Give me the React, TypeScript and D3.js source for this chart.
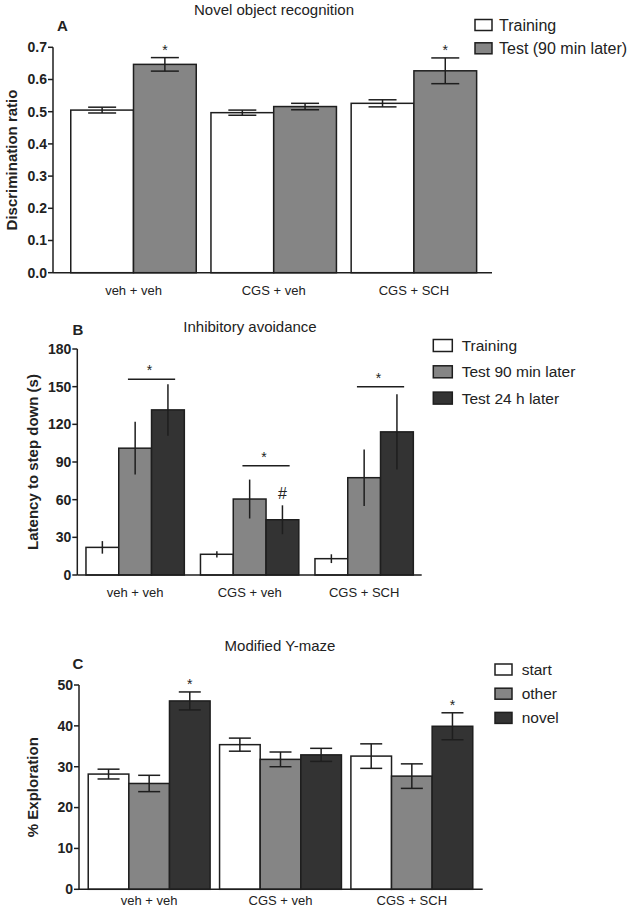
import React from 'react';
import * as d3 from 'd3';

// ---------- DATA ----------
const groups = ['veh + veh', 'CGS + veh', 'CGS + SCH'];

// Panel A – Novel object recognition
const seriesA = ['Training', 'Test (90 min later)'];
const trainA = [0.505, 0.497, 0.526];
const trainAErr = [0.009, 0.008, 0.011];
const testA = [0.647, 0.516, 0.627];
const testAErr = [0.021, 0.01, 0.04];
const ticksA = [0, 0.1, 0.2, 0.3, 0.4, 0.5, 0.6, 0.7];

// Panel B – Inhibitory avoidance
const seriesB = ['Training', 'Test 90 min later', 'Test 24 h later'];
const trainB = [22, 16.5, 13];
const trainBErr = [5, 2.5, 3.5];
const t90B = [101, 60.5, 77.5];
const t90BErr = [21, 15.5, 22.5];
const t24B = [131.5, 44, 114];
const t24BErr = [20.5, 11.5, 30];
const sigLineB = [156, 87, 150];
const ticksB = [0, 30, 60, 90, 120, 150, 180];

// Panel C – Modified Y-maze
const seriesC = ['start', 'other', 'novel'];
const startC = [28.2, 35.4, 32.6];
const startCErr = [1.2, 1.6, 3];
const otherC = [25.9, 31.8, 27.7];
const otherCErr = [2, 1.8, 3];
const novelC = [46.1, 32.9, 39.9];
const novelCErr = [2.2, 1.6, 3.3];
const ticksC = [0, 10, 20, 30, 40, 50];

const FONT = 'Liberation Sans, Arial, Helvetica, sans-serif';
const FILLS = ['#ffffff', '#858585', '#333333'];
const STROKE = '#1e1e1e';

type Stars = { series: number; group: number; sym: string; dy: number; size: number }[];

interface PanelCfg {
  letter: string;
  title: string;
  titleX: number;
  titleY: number;
  letterX: number;
  letterY: number;
  yLabel: string;
  yLabelX: number;
  domainMax: number;
  ticks: number[];
  fmt: (v: number) => string;
  yTop: number;
  yBottom: number;
  axisX: number;
  axisEnd: number;
  bandRange: [number, number];
  padding: number;
  cap: number;
  series: string[];
  values: number[][];
  errors: number[][];
  stars: Stars;
  legend: { x: number; y: number; w: number; h: number; step: number; textX: number; size: number };
  xLabelDy: number;
}

function Panel({ c }: { c: PanelCfg }) {
  const y = d3.scaleLinear().domain([0, c.domainMax]).range([c.yBottom, c.yTop]);
  const x0 = d3.scaleBand<string>().domain(groups).range(c.bandRange).paddingInner(c.padding).paddingOuter(c.padding / 2);
  const x1 = d3.scaleBand<string>().domain(c.series).range([0, x0.bandwidth()]);
  const bw = x1.bandwidth();
  return (
    <g fontFamily={FONT}>
      <text x={c.titleX} y={c.titleY} textAnchor="middle" fontSize={15} fill="#222">{c.title}</text>
      <text x={c.letterX} y={c.letterY} fontSize={15} fontWeight="bold" fill="#222">{c.letter}</text>
      {/* bars */}
      {groups.map((g, gi) =>
        c.series.map((s, si) => {
          const v = c.values[si][gi];
          const bx = (x0(g) as number) + (x1(s) as number);
          return (
            <rect key={g + s} x={bx} y={y(v)} width={bw} height={y(0) - y(v)}
              fill={FILLS[si]} stroke={STROKE} strokeWidth={1.5} />
          );
        })
      )}
      {/* error bars */}
      {groups.map((g, gi) =>
        c.series.map((s, si) => {
          const v = c.values[si][gi];
          const e = c.errors[si][gi];
          const cx = (x0(g) as number) + (x1(s) as number) + bw / 2;
          return (
            <g key={'e' + g + s} stroke={STROKE} strokeWidth={1.5}>
              <line x1={cx} x2={cx} y1={y(v + e)} y2={y(v - e)} />
              {c.cap > 0 && <line x1={cx - c.cap / 2} x2={cx + c.cap / 2} y1={y(v + e)} y2={y(v + e)} />}
              {c.cap > 0 && <line x1={cx - c.cap / 2} x2={cx + c.cap / 2} y1={y(v - e)} y2={y(v - e)} />}
            </g>
          );
        })
      )}
      {/* stars / symbols */}
      {c.stars.map((st, i) => {
        const g = groups[st.group];
        const s = c.series[st.series];
        const cx = (x0(g) as number) + (x1(s) as number) + bw / 2;
        const top = y(c.values[st.series][st.group] + c.errors[st.series][st.group]);
        return (
          <text key={'s' + i} x={cx} y={top - st.dy} textAnchor="middle" fontSize={st.size} fill="#222">{st.sym}</text>
        );
      })}
      {/* y axis */}
      <line x1={c.axisX} x2={c.axisX} y1={y(c.domainMax)} y2={y(0)} stroke={STROKE} strokeWidth={1.5} />
      {c.ticks.map(t => (
        <g key={'t' + t}>
          <line x1={c.axisX - 5} x2={c.axisX} y1={y(t)} y2={y(t)} stroke={STROKE} strokeWidth={1.5} />
          <text x={c.axisX - 6} y={y(t)} dy="0.35em" textAnchor="end" fontSize={14} fontWeight="bold" fill="#222">{c.fmt(t)}</text>
        </g>
      ))}
      {/* x axis */}
      <line x1={c.axisX} x2={c.axisEnd} y1={y(0)} y2={y(0)} stroke={STROKE} strokeWidth={1.5} />
      {groups.map(g => (
        <text key={'x' + g} x={(x0(g) as number) + x0.bandwidth() / 2} y={y(0) + c.xLabelDy} textAnchor="middle" fontSize={13} fill="#222">{g}</text>
      ))}
      {/* y label */}
      <text transform={`translate(${c.yLabelX},${(y(0) + y(c.domainMax)) / 2}) rotate(-90)`} textAnchor="middle" dy="0.35em"
        fontSize={15} fontWeight="bold" fill="#222">{c.yLabel}</text>
      {/* legend */}
      {c.series.map((s, si) => (
        <g key={'l' + s}>
          <rect x={c.legend.x} y={c.legend.y + si * c.legend.step} width={c.legend.w} height={c.legend.h}
            fill={FILLS[si]} stroke={STROKE} strokeWidth={1.5} />
          <text x={c.legend.textX} y={c.legend.y + si * c.legend.step + c.legend.h / 2} dy="0.35em" fontSize={c.legend.size} fill="#222">{s}</text>
        </g>
      ))}
    </g>
  );
}

const panelA: PanelCfg = {
  letter: 'A', title: 'Novel object recognition', titleX: 274, titleY: 15, letterX: 57, letterY: 31,
  yLabel: 'Discrimination ratio', yLabelX: 12, domainMax: 0.7, ticks: ticksA, fmt: d3.format('.1f'),
  yTop: 47.3, yBottom: 272.7, axisX: 53, axisEnd: 492, bandRange: [63.4, 484], padding: 0.105, cap: 28,
  series: seriesA, values: [trainA, testA], errors: [trainAErr, testAErr],
  stars: [{ series: 1, group: 0, sym: '*', dy: 3, size: 14 }, { series: 1, group: 2, sym: '*', dy: 3, size: 14 }],
  legend: { x: 475, y: 19.5, w: 17, h: 11, step: 23.3, textX: 499, size: 16 }, xLabelDy: 22,
};

const panelB: PanelCfg = {
  letter: 'B', title: 'Inhibitory avoidance', titleX: 250, titleY: 332, letterX: 72.5, letterY: 335,
  yLabel: 'Latency to step down (s)', yLabelX: 33, domainMax: 180, ticks: ticksB, fmt: d3.format('d'),
  yTop: 349, yBottom: 575, axisX: 77.3, axisEnd: 421.7, bandRange: [77.9, 421.4], padding: 0.141, cap: 0,
  series: seriesB, values: [trainB, t90B, t24B], errors: [trainBErr, t90BErr, t24BErr],
  stars: [{ series: 2, group: 1, sym: '#', dy: 6, size: 16 }],
  legend: { x: 433.3, y: 339.5, w: 19, h: 12, step: 26.3, textX: 461.7, size: 15.5 }, xLabelDy: 22,
};

const panelC: PanelCfg = {
  letter: 'C', title: 'Modified Y-maze', titleX: 280, titleY: 651, letterX: 72.5, letterY: 669,
  yLabel: '% Exploration', yLabelX: 33, domainMax: 50, ticks: ticksC, fmt: d3.format('d'),
  yTop: 685, yBottom: 889.3, axisX: 79, axisEnd: 482.7, bandRange: [83.5, 477.5], padding: 0.072, cap: 22,
  series: seriesC, values: [startC, otherC, novelC], errors: [startCErr, otherCErr, novelCErr],
  stars: [{ series: 2, group: 0, sym: '*', dy: 3, size: 14 }, { series: 2, group: 2, sym: '*', dy: 3, size: 14 }],
  legend: { x: 495, y: 664, w: 17, h: 11, step: 24.2, textX: 521.7, size: 15.5 }, xLabelDy: 16,
};

function SigLinesB() {
  const y = d3.scaleLinear().domain([0, 180]).range([575, 349]);
  const x0 = d3.scaleBand<string>().domain(groups).range([77.9, 421.4]).paddingInner(0.141).paddingOuter(0.0705);
  const x1 = d3.scaleBand<string>().domain(seriesB).range([0, x0.bandwidth()]);
  const bw = x1.bandwidth();
  return (
    <g fontFamily={FONT}>
      {groups.map((g, gi) => {
        const boundary = (x0(g) as number) + (x1(seriesB[2]) as number);
        const ly = y(sigLineB[gi]);
        return (
          <g key={'sig' + g}>
            <line x1={boundary - 0.72 * bw} x2={boundary + 0.72 * bw} y1={ly} y2={ly} stroke={STROKE} strokeWidth={1.5} />
            <text x={boundary - 2} y={ly - 4} textAnchor="middle" fontSize={14} fill="#222">*</text>
          </g>
        );
      })}
    </g>
  );
}

export default function App() {
  return (
    <svg width={629} height={908} style={{ position: 'absolute', left: 0, top: 0, background: '#fff' }}>
      <rect width={629} height={908} fill="#fff" />
      <Panel c={panelA} />
      <Panel c={panelB} />
      <SigLinesB />
      <Panel c={panelC} />
    </svg>
  );
}
